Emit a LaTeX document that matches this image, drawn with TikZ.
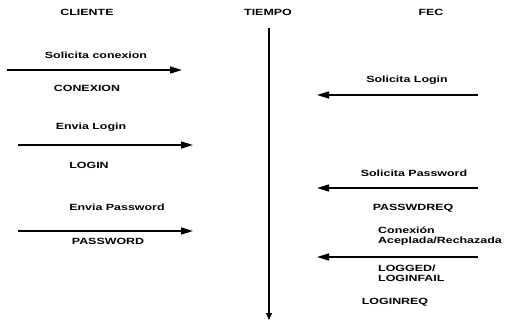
\documentclass[tikz,border=0pt]{standalone}
\usepackage{fontspec}
\setmainfont{Liberation Sans}[FakeStretch=1.38]
\usetikzlibrary{arrows.meta}
\begin{document}
\begin{tikzpicture}[x=1pt,y=-1pt,
  lbl/.style={font=\bfseries\fontsize{9}{10}\selectfont, inner sep=0pt},
  lbll/.style={lbl, anchor=west, align=left},
  msg/.style={line width=1.5pt, -{Triangle[length=12pt,width=7pt]}},
  axis/.style={line width=1.5pt, -{Triangle[length=7pt,width=6pt]}}]
\useasboundingbox (0,0) rectangle (513,323);
% headers
\node[lbl] (cli) at (87,12) {CLIENTE};
\node[lbl] (tie) at (268,12) {TIEMPO};
\node[lbl] (fec) at (431,12) {FEC};
% time axis
\coordinate (t0) at (269,28);
\coordinate (t1) at (269,320);
\draw[axis] (t0) -- (t1);
% client messages
\node[lbl] (m1) at (96,55) {Solicita conexion};
\coordinate (a1s) at (7,70); \coordinate (a1e) at (182,70);
\draw[msg] (a1s) -- (a1e);
\node[lbl] (c1) at (87,88) {CONEXION};

\node[lbl] (m2) at (91,127) {Envia Login};
\coordinate (a2s) at (18,145); \coordinate (a2e) at (193,145);
\draw[msg] (a2s) -- (a2e);
\node[lbl] (c2) at (89,165) {LOGIN};

\node[lbl] (m3) at (117,207) {Envia Password};
\coordinate (a3s) at (18,231); \coordinate (a3e) at (193,231);
\draw[msg] (a3s) -- (a3e);
\node[lbl] (c3) at (108,241) {PASSWORD};
% server messages
\node[lbl] (m4) at (407,80) {Solicita Login};
\coordinate (a4s) at (478,95); \coordinate (a4e) at (317,95);
\draw[msg] (a4s) -- (a4e);

\node[lbl] (m5) at (414,173) {Solicita Password};
\coordinate (a5s) at (478,188); \coordinate (a5e) at (317,188);
\draw[msg] (a5s) -- (a5e);
\node[lbl] (c5) at (413,208) {PASSWDREQ};

\node[lbll] (m6) at (378,236) {Conexión\\Aceplada/Rechazada};
\coordinate (a6s) at (478,257); \coordinate (a6e) at (317,257);
\draw[msg] (a6s) -- (a6e);
\node[lbll] (c6) at (378,273) {LOGGED/\\LOGINFAIL};

\node[lbl] (c7) at (395,302) {LOGINREQ};
\end{tikzpicture}
\end{document}
